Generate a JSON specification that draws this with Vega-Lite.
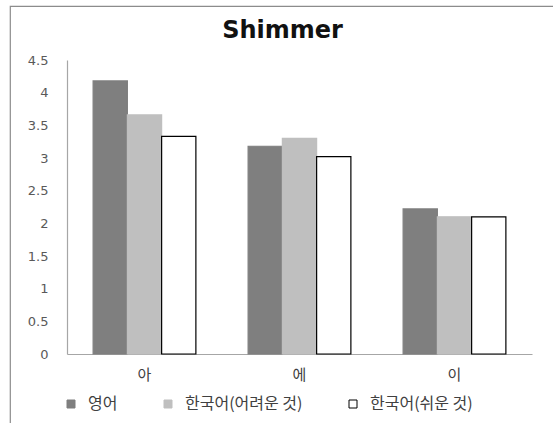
{
  "$schema": "https://vega.github.io/schema/vega-lite/v6.json",
  "autosize": "none",
  "width": 545,
  "height": 420,
  "padding": {"left": 10, "top": 6, "right": 0, "bottom": 0},
  "background": "#ffffff",
  "title": {
    "text": "Shimmer",
    "anchor": "middle",
    "frame": "group",
    "orient": "top",
    "offset": 0,
    "baseline": "alphabetic",
    "dy": 56,
    "font": "DejaVu Sans",
    "fontSize": 24,
    "fontWeight": "bold",
    "color": "#111111"
  },
  "data": {
    "values": [
      {"vowel": "아", "group": "영어", "shimmer": 4.18},
      {"vowel": "아", "group": "한국어(어려운 것)", "shimmer": 3.66},
      {"vowel": "아", "group": "한국어(쉬운 것)", "shimmer": 3.33},
      {"vowel": "에", "group": "영어", "shimmer": 3.18},
      {"vowel": "에", "group": "한국어(어려운 것)", "shimmer": 3.30},
      {"vowel": "에", "group": "한국어(쉬운 것)", "shimmer": 3.02},
      {"vowel": "이", "group": "영어", "shimmer": 2.22},
      {"vowel": "이", "group": "한국어(어려운 것)", "shimmer": 2.10},
      {"vowel": "이", "group": "한국어(쉬운 것)", "shimmer": 2.10}
    ]
  },
  "mark": {"type": "bar", "strokeWidth": 1.2},
  "encoding": {
    "x": {
      "field": "vowel",
      "type": "nominal",
      "sort": ["아", "에", "이"],
      "scale": {"range": [57, 522], "paddingInner": 0.337, "paddingOuter": 0.1685},
      "axis": {
        "title": null,
        "orient": "bottom",
        "offset": -72,
        "labelAngle": 0,
        "ticks": false,
        "labelPadding": 13,
        "labelFont": "Noto Sans CJK KR",
        "labelFontSize": 15,
        "labelColor": "#404040",
        "domainColor": "#a6a6a6",
        "domainWidth": 1.2,
        "grid": false
      }
    },
    "xOffset": {
      "field": "group",
      "type": "nominal",
      "sort": ["영어", "한국어(어려운 것)", "한국어(쉬운 것)"],
      "scale": {"paddingInner": 0, "paddingOuter": 0}
    },
    "y": {
      "field": "shimmer",
      "type": "quantitative",
      "scale": {"domain": [0, 4.5], "range": [348, 54], "nice": false, "zero": true},
      "axis": {
        "title": null,
        "orient": "left",
        "offset": -57,
        "values": [0, 0.5, 1, 1.5, 2, 2.5, 3, 3.5, 4, 4.5],
        "format": ".1~f",
        "ticks": false,
        "grid": false,
        "labelPadding": 19,
        "labelFont": "DejaVu Sans",
        "labelFontSize": 13,
        "labelColor": "#595959",
        "domainColor": "#a6a6a6",
        "domainWidth": 1.2
      }
    },
    "fill": {
      "field": "group",
      "type": "nominal",
      "sort": ["영어", "한국어(어려운 것)", "한국어(쉬운 것)"],
      "scale": {
        "domain": ["영어", "한국어(어려운 것)", "한국어(쉬운 것)"],
        "range": ["#7f7f7f", "#bfbfbf", "#ffffff"]
      },
      "legend": {
        "title": null,
        "orient": "none",
        "direction": "horizontal",
        "legendX": 53,
        "legendY": 390,
        "padding": 0,
        "symbolType": "square",
        "symbolSize": 64,
        "symbolStrokeWidth": 1,
        "labelOffset": 9,
        "columnPadding": 42,
        "labelFont": "Noto Sans CJK KR",
        "labelFontSize": 16,
        "labelColor": "#404040",
        "labelLimit": 300
      }
    },
    "stroke": {
      "field": "group",
      "type": "nominal",
      "sort": ["영어", "한국어(어려운 것)", "한국어(쉬운 것)"],
      "scale": {
        "domain": ["영어", "한국어(어려운 것)", "한국어(쉬운 것)"],
        "range": ["#7f7f7f", "#bfbfbf", "#000000"]
      },
      "legend": null
    }
  },
  "config": {
    "view": {"stroke": "#8c8c8c", "strokeWidth": 1.2},
    "axis": {"labelFontWeight": "normal"}
  }
}
